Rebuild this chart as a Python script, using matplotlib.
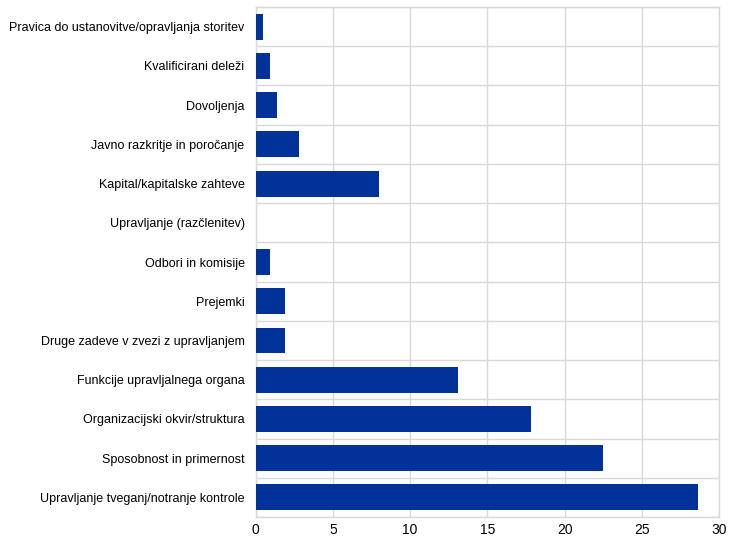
import matplotlib.pyplot as plt
import numpy as np

plt.rcParams['font.family'] = ['Liberation Sans', 'DejaVu Sans']

categories = [
    "Pravica do ustanovitve/opravljanja storitev",
    "Kvalificirani deleži",
    "Dovoljenja",
    "Javno razkritje in poročanje",
    "Kapital/kapitalske zahteve",
    "Upravljanje (razčlenitev)",
    "Odbori in komisije",
    "Prejemki",
    "Druge zadeve v zvezi z upravljanjem",
    "Funkcije upravljalnega organa",
    "Organizacijski okvir/struktura",
    "Sposobnost in primernost",
    "Upravljanje tveganj/notranje kontrole",
]
values = [0.5, 0.9, 1.4, 2.8, 8.0, 0.0, 0.9, 1.9, 1.9, 13.1, 17.8, 22.5, 28.6]
xticks = [0, 5, 10, 15, 20, 25, 30]

grid_col = "#d9d9d9"

fig = plt.figure(figsize=(7.41, 5.44), dpi=100)
ax = fig.add_axes([0.345, 0.0496, 0.6255, 0.9375])

y = np.arange(len(categories))
ax.barh(y, values, height=0.66, color="#003299", zorder=3)

ax.set_ylim(len(categories) - 0.5, -0.5)
ax.set_xlim(0, 30)
ax.set_xticks(xticks)
ax.set_yticks(y)
ax.set_yticklabels(categories)
ax.set_yticks(np.arange(len(categories) + 1) - 0.5, minor=True)

ax.grid(axis="x", which="major", color=grid_col, linewidth=1, zorder=0)
ax.grid(axis="y", which="minor", color=grid_col, linewidth=1, zorder=0)
ax.grid(axis="y", which="major", visible=False)

for s in ax.spines.values():
    s.set_color(grid_col)
    s.set_linewidth(1)

ax.tick_params(axis="both", which="both", length=0, colors="black")
ax.tick_params(axis="y", labelsize=9, pad=8)
ax.tick_params(axis="x", labelsize=10, pad=4)

fig.savefig("out.png", dpi=100)
